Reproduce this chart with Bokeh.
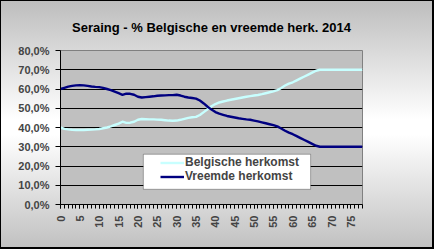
import math
from bokeh.plotting import figure
from bokeh.models import FixedTicker, Legend, LegendItem, BoxAnnotation, Range1d
from bokeh.embed import file_html
from bokeh.resources import INLINE

title_text = "Seraing - % Belgische en vreemde herk. 2014"

ages = list(range(79))

belgische = [
    40.0, 39.3, 39.0, 38.8, 38.7, 38.7, 38.7, 38.8, 38.9, 39.0,
    39.2, 39.6, 40.0, 40.6, 41.3, 42.0, 43.0, 42.4, 42.5, 43.0,
    44.0, 44.4, 44.3, 44.2, 44.2, 44.1, 44.0, 43.8, 43.6, 43.5,
    43.6, 44.0, 44.5, 45.0, 45.3, 45.5, 46.5, 48.0, 49.5, 51.0,
    52.2, 53.0, 53.5, 54.0, 54.4, 54.8, 55.2, 55.6, 56.0, 56.3,
    56.6, 56.9, 57.3, 57.8, 58.3, 58.8, 59.4, 60.5, 61.8, 62.8,
    63.5, 64.5, 65.5, 66.5, 67.5, 68.5, 69.5, 70.0, 70.0, 70.0,
    70.0, 70.0, 70.0, 70.0, 70.0, 70.0, 70.0, 70.0, 70.0,
]

vreemde = [
    60.0, 60.6, 61.2, 61.6, 61.9, 62.0, 61.9, 61.6, 61.3, 61.1,
    61.0, 60.6, 60.0, 59.4, 58.6, 57.8, 57.0, 57.6, 57.5, 57.0,
    56.0, 55.6, 55.8, 56.0, 56.2, 56.5, 56.6, 56.7, 56.8, 56.8,
    57.0, 56.6, 56.0, 55.6, 55.3, 55.0, 54.0, 52.5, 50.8, 49.3,
    48.0, 47.2, 46.6, 46.0, 45.6, 45.2, 44.8, 44.5, 44.2, 44.0,
    43.6, 43.2, 42.7, 42.2, 41.7, 41.2, 40.6, 39.5, 38.3, 37.3,
    36.5, 35.5, 34.5, 33.5, 32.5, 31.5, 30.5, 30.0, 30.0, 30.0,
    30.0, 30.0, 30.0, 30.0, 30.0, 30.0, 30.0, 30.0, 30.0,
]

series_names = ["Belgische herkomst", "Vreemde herkomst"]
x_ticks = list(range(0, 80, 5))
y_ticks = [0, 10, 20, 30, 40, 50, 60, 70, 80]
y_tick_labels = ["0,0%", "10,0%", "20,0%", "30,0%", "40,0%", "50,0%", "60,0%", "70,0%", "80,0%"]

FONT = "Liberation Sans"

p = figure(width=434, height=249, output_backend="svg", toolbar_location=None,
           x_range=Range1d(0, 78), y_range=Range1d(0, 80),
           min_border_left=60, min_border_right=72, min_border_top=50, min_border_bottom=45,
           title=title_text)

p.styles = {
    "background": "linear-gradient(to bottom, #bdbdbd 0%, #ffffff 48%, #ffffff 54%, #c0c0c0 100%)",
    "box-shadow": "inset 1px 1px 0 0 #000000, inset -2px -2px 0 0 #000000",
}
p.border_fill_alpha = 0
p.background_fill_color = "#C0C0C0"
p.outline_line_color = "#808080"
p.outline_line_width = 1

p.title.text_font = FONT
p.title.text_font_style = "bold"
p.title.text_font_size = "13px"
p.title.align = "center"
p.title.offset = 6
p.title.standoff = 32
p.title.text_color = "#000000"

r1 = p.line(ages, belgische, line_color="#C8FFFF", line_width=2.4, line_join="round")
r2 = p.line(ages, vreemde, line_color="#000080", line_width=2.4, line_join="round")

p.xgrid.visible = False
p.ygrid.ticker = FixedTicker(ticks=y_ticks)
p.ygrid.grid_line_color = "#000000"
p.ygrid.grid_line_width = 1

xa = p.xaxis[0]
xa.ticker = FixedTicker(ticks=x_ticks, minor_ticks=ages)
xa.major_label_orientation = math.pi / 2
xa.major_label_text_font = FONT
xa.major_label_text_font_style = "bold"
xa.major_label_text_font_size = "11px"
xa.major_label_standoff = 7
xa.major_tick_out = 4
xa.major_tick_in = 0
xa.minor_tick_out = 4
xa.minor_tick_in = 0
xa.axis_line_color = "#000000"
xa.major_tick_line_color = "#000000"
xa.minor_tick_line_color = "#000000"

ya = p.yaxis[0]
ya.ticker = FixedTicker(ticks=y_ticks)
ya.major_label_overrides = dict(zip(y_ticks, y_tick_labels))
ya.major_label_text_font = FONT
ya.major_label_text_font_style = "bold"
ya.major_label_text_font_size = "11px"
ya.major_label_standoff = 6
ya.major_tick_out = 5
ya.major_tick_in = 0
ya.minor_tick_line_color = None
ya.axis_line_color = "#000000"
ya.major_tick_line_color = "#000000"

box = BoxAnnotation(left=21.4, right=64.6, bottom=7.9, top=26.1,
                    fill_color="#FFFFFF", fill_alpha=1.0,
                    line_color="#000000", line_width=1)
p.add_layout(box)

legend = Legend(items=[LegendItem(label=series_names[0], renderers=[r1]),
                       LegendItem(label=series_names[1], renderers=[r2])],
                location=(100, 21), glyph_width=24, glyph_height=13, label_height=13,
                label_standoff=1, spacing=0, padding=0, margin=0,
                border_line_alpha=0, background_fill_alpha=0,
                label_text_font=FONT, label_text_font_style="bold",
                label_text_font_size="12px")
p.add_layout(legend)

open("out.html", "w").write(file_html(p, INLINE))
